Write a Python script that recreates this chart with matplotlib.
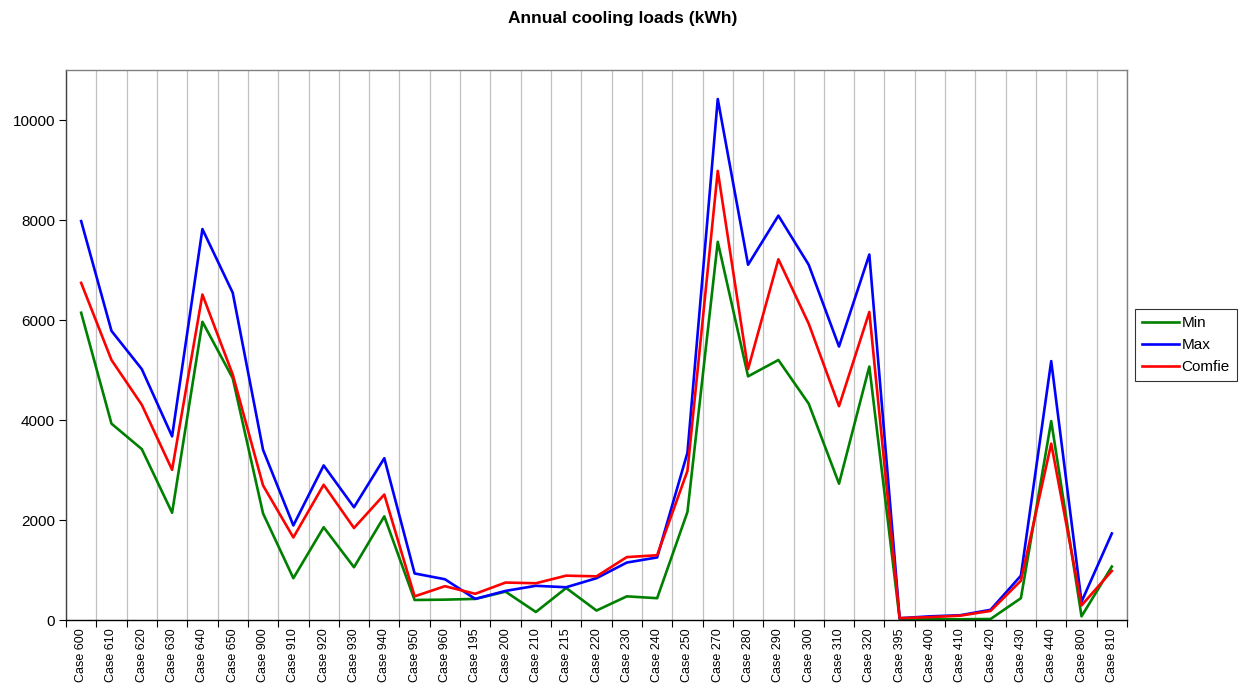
import matplotlib
matplotlib.use("Agg")
import matplotlib.pyplot as plt
import numpy as np

plt.rcParams['font.family'] = ['Liberation Sans', 'DejaVu Sans']

cases = ["Case 600", "Case 610", "Case 620", "Case 630", "Case 640", "Case 650",
         "Case 900", "Case 910", "Case 920", "Case 930", "Case 940", "Case 950",
         "Case 960", "Case 195", "Case 200", "Case 210", "Case 215", "Case 220",
         "Case 230", "Case 240", "Case 250", "Case 270", "Case 280", "Case 290",
         "Case 300", "Case 310", "Case 320", "Case 395", "Case 400", "Case 410",
         "Case 420", "Case 430", "Case 440", "Case 800", "Case 810"]

min_vals = [6145, 3927, 3418, 2145, 5964, 4836, 2131, 836, 1855, 1055, 2073, 400,
            407, 422, 567, 160, 640, 189, 473, 436, 2160, 7564, 4873, 5200,
            4327, 2727, 5069, 20, 15, 15, 20, 436, 3978, 73, 1069]
max_vals = [7978, 5782, 5018, 3673, 7818, 6545, 3404, 1891, 3091, 2255, 3236, 931,
            815, 422, 582, 684, 655, 836, 1149, 1251, 3345, 10420, 7105, 8087,
            7105, 5469, 7309, 36, 73, 95, 204, 887, 5178, 364, 1731]
comfie_vals = [6742, 5200, 4305, 3004, 6509, 4909, 2691, 1651, 2705, 1840, 2509, 473,
               676, 524, 749, 735, 887, 873, 1258, 1295, 2982, 8982, 5018, 7215,
               5927, 4276, 6160, 36, 58, 87, 182, 785, 3527, 291, 982]

y_ticks = [0, 2000, 4000, 6000, 8000, 10000]

fig = plt.figure(figsize=(12.47, 6.88), dpi=100)
ax = fig.add_axes([66/1247, 1-620/688, (1127-66)/1247, (620-70)/688])

x = np.arange(len(cases))
ax.plot(x, min_vals, color='#008000', lw=1.9, label='Min')
ax.plot(x, max_vals, color='#0000FF', lw=1.9, label='Max')
ax.plot(x, comfie_vals, color='#FF0000', lw=1.9, label='Comfie')

ax.set_xlim(-0.5, len(cases) - 0.5)
ax.set_ylim(0, 11000)
ax.set_yticks(y_ticks)
ax.set_yticklabels([str(v) for v in y_ticks], fontsize=11)

# major ticks at boundaries (gridlines), minor at centers (labels)
ax.set_xticks(np.arange(len(cases) + 1) - 0.5)
ax.set_xticklabels([])
ax.set_xticks(x, minor=True)
ax.set_xticklabels(cases, minor=True, rotation=90, fontsize=9)
ax.tick_params(axis='x', which='minor', length=0, pad=6)
ax.tick_params(axis='x', which='major', length=5, direction='out', color='black')
ax.tick_params(axis='y', length=5, direction='out', color='black', pad=3)
ax.grid(axis='x', which='major', color='#c0c0c0', lw=0.9)
ax.set_axisbelow(True)

for s in ['top', 'right']:
    ax.spines[s].set_color('#808080')
ax.spines['left'].set_color('#404040')
ax.spines['bottom'].set_color('black')
for s in ax.spines.values():
    s.set_linewidth(1.0)

fig.text(623/1247, 1-18/688, 'Annual cooling loads (kWh)', ha='center', va='center',
         fontsize=12.5, fontweight='bold')

leg = ax.legend(loc='center left', bbox_to_anchor=(1135/1247, 1-345/688),
                bbox_transform=fig.transFigure, frameon=True, fancybox=False,
                edgecolor='black', fontsize=11, handlelength=2.4, handletextpad=0.2,
                borderpad=0.45, labelspacing=0.52, borderaxespad=0)
leg.get_frame().set_linewidth(0.8)

fig.savefig('out.png', dpi=100, facecolor='white')
